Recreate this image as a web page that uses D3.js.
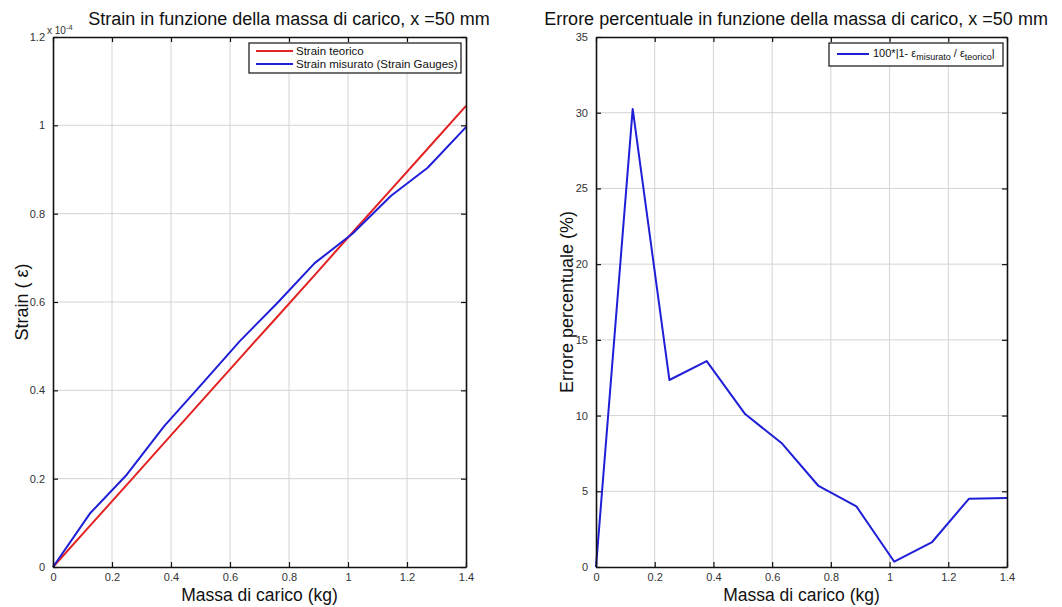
<!DOCTYPE html>
<html>
<head>
<meta charset="utf-8">
<script src="https://cdn.jsdelivr.net/npm/d3@7"></script>
<style>
  body { margin: 0; background: #fff; }
  svg { font-family: "Liberation Sans", Arial, sans-serif; }
  .tick text { fill: #333; font-size: 11px; }
  .grid line { stroke: #d4d4d4; stroke-width: 1; }
</style>
</head>
<body>
<svg id="chart" width="1062" height="607"></svg>
<script>
// masse di carico (kg)
var masses = [0, 0.125, 0.25, 0.377, 0.508, 0.634, 0.758, 0.887, 1.016, 1.145, 1.27, 1.4];
// strain (x 1e-4)
var strainTeorico  = [0, 0.093, 0.186, 0.281, 0.379, 0.473, 0.565, 0.661, 0.758, 0.854, 0.947, 1.044];
var strainMisurato = [0, 0.121, 0.209, 0.319, 0.417, 0.512, 0.596, 0.688, 0.755, 0.840, 0.904, 0.996];
// errore percentuale
var errore = [0, 30.25, 12.35, 13.6, 10.1, 8.15, 5.35, 4.0, 0.35, 1.65, 4.5, 4.55];

var xTicks = [0, 0.2, 0.4, 0.6, 0.8, 1, 1.2, 1.4];
var yTicksStrain = [0, 0.2, 0.4, 0.6, 0.8, 1, 1.2];
var yTicksErr = [0, 5, 10, 15, 20, 25, 30, 35];

var red = "#e32222", blue = "#1f1fd8";
var svg = d3.select("#chart");

function drawPanel(opts) {
    var x = d3.scaleLinear().domain([0, 1.4]).range([opts.left, opts.right]);
    var y = d3.scaleLinear().domain(opts.yDomain).range([opts.bottom, opts.top]);
    var g = svg.append("g");

    // grid
    g.append("g").attr("class", "grid").selectAll("line.gx")
        .data(xTicks.slice(1, -1)).enter().append("line")
        .attr("x1", x).attr("x2", x).attr("y1", opts.top).attr("y2", opts.bottom);
    g.append("g").attr("class", "grid").selectAll("line.gy")
        .data(opts.yTicks.slice(1, -1)).enter().append("line")
        .attr("y1", y).attr("y2", y).attr("x1", opts.left).attr("x2", opts.right);

    // data lines
    var line = d3.line().x(function (d) { return x(d[0]); }).y(function (d) { return y(d[1]); });
    opts.series.forEach(function (s) {
        g.append("path")
            .datum(d3.zip(masses, s.values))
            .attr("d", line)
            .attr("fill", "none")
            .attr("stroke", s.color)
            .attr("stroke-width", 2)
            .attr("stroke-linejoin", "round");
    });

    // axes with inward ticks (matlab box)
    var fmt = function (d) { return String(d); };
    g.append("g").attr("transform", "translate(0," + opts.bottom + ")")
        .call(d3.axisBottom(x).tickValues(xTicks).tickFormat(fmt).tickSizeInner(-5).tickSizeOuter(0).tickPadding(6));
    g.append("g").attr("transform", "translate(" + opts.left + ",0)")
        .call(d3.axisLeft(y).tickValues(opts.yTicks).tickFormat(fmt).tickSizeInner(-5).tickSizeOuter(0).tickPadding(8));
    g.append("g").attr("transform", "translate(0," + opts.top + ")")
        .call(d3.axisTop(x).tickValues(xTicks).tickFormat("").tickSizeInner(-5).tickSizeOuter(0));
    g.append("g").attr("transform", "translate(" + opts.right + ",0)")
        .call(d3.axisRight(y).tickValues(opts.yTicks).tickFormat("").tickSizeInner(-5).tickSizeOuter(0));
    g.selectAll(".domain").attr("stroke", "#111").attr("stroke-width", 1.6);
    g.selectAll(".tick line").attr("stroke", "#111").attr("stroke-width", 1.2);

    // title and labels
    g.append("text").attr("x", opts.titleX).attr("y", 25).attr("text-anchor", "middle")
        .attr("font-size", 18).attr("fill", "#111").text(opts.title);
    g.append("text").attr("x", (opts.left + opts.right) / 2).attr("y", 601).attr("text-anchor", "middle")
        .attr("font-size", 17.5).attr("fill", "#111").text("Massa di carico (kg)");
    g.append("text").attr("transform", "translate(" + opts.yLabelX + "," + ((opts.top + opts.bottom) / 2) + ") rotate(-90)")
        .attr("text-anchor", "middle").attr("font-size", 18).attr("fill", "#111").text(opts.yLabel);
    return { x: x, y: y, g: g };
}

var p1 = drawPanel({
    left: 53, right: 466, top: 37, bottom: 567,
    yDomain: [0, 1.2], yTicks: yTicksStrain,
    series: [{ values: strainTeorico, color: red }, { values: strainMisurato, color: blue }],
    title: "Strain in funzione della massa di carico, x =50 mm", titleX: 289,
    yLabel: "Strain ( ε)", yLabelX: 28
});
p1.g.append("text").attr("x", 47).attr("y", 34).attr("font-size", 10).attr("fill", "#333")
    .html('x 10<tspan dy="-4" font-size="7.5">-4</tspan>');

var p2 = drawPanel({
    left: 596, right: 1007, top: 37, bottom: 567,
    yDomain: [0, 35], yTicks: yTicksErr,
    series: [{ values: errore, color: blue }],
    title: "Errore percentuale in funzione della massa di carico, x =50 mm", titleX: 796,
    yLabel: "Errore percentuale (%)", yLabelX: 573
});

// legend left
var leg1 = svg.append("g");
leg1.append("rect").attr("x", 249).attr("y", 43).attr("width", 212).attr("height", 30)
    .attr("fill", "#fff").attr("stroke", "#111").attr("stroke-width", 1.2);
[{ t: "Strain teorico", c: red, y: 51 }, { t: "Strain misurato (Strain Gauges)", c: blue, y: 64 }].forEach(function (d) {
    leg1.append("line").attr("x1", 256).attr("x2", 293).attr("y1", d.y).attr("y2", d.y)
        .attr("stroke", d.c).attr("stroke-width", 2);
    leg1.append("text").attr("x", 296).attr("y", d.y + 4).attr("font-size", 11.5).attr("fill", "#111").text(d.t);
});

// legend right
var leg2 = svg.append("g");
leg2.append("rect").attr("x", 829).attr("y", 43).attr("width", 174).attr("height", 23)
    .attr("fill", "#fff").attr("stroke", "#111").attr("stroke-width", 1.2);
leg2.append("line").attr("x1", 837).attr("x2", 869).attr("y1", 54).attr("y2", 54)
    .attr("stroke", blue).attr("stroke-width", 2);
leg2.append("text").attr("x", 873).attr("y", 57).attr("font-size", 11).attr("fill", "#111")
    .html('100*|1- ε<tspan dy="3" font-size="9">misurato</tspan><tspan dy="-3"> / ε</tspan><tspan dy="3" font-size="9">teorico</tspan><tspan dy="-3">|</tspan>');
</script>
</body>
</html>
